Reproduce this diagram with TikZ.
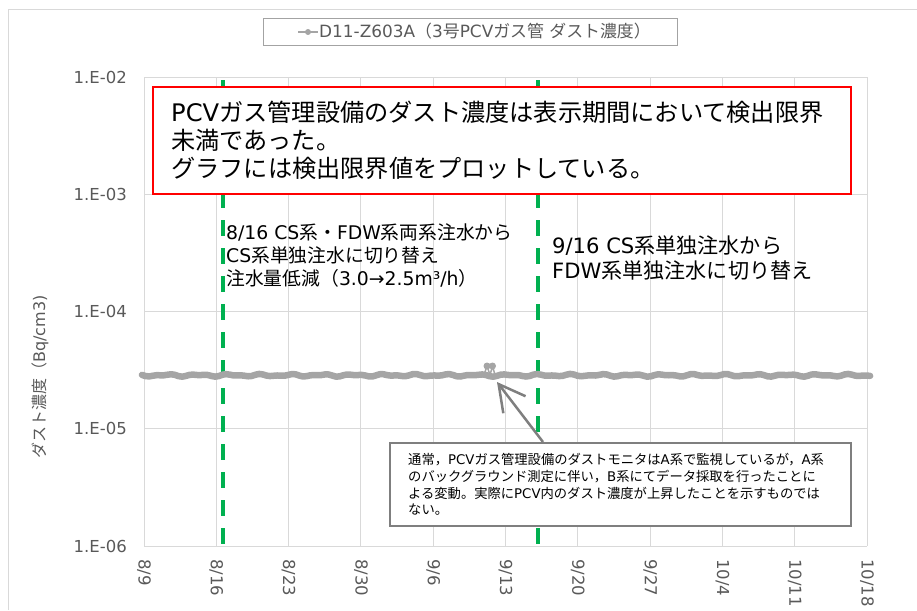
\documentclass[tikz,border=0pt]{standalone}
\usepackage{fontspec}
\setmainfont{Noto Sans CJK JP}
\newfontfamily\latfont{DejaVu Sans}
\newcommand\ltn[1]{{\latfont #1}}
\usepackage{tikz}
\usetikzlibrary{arrows.meta,positioning}
\definecolor{gridgray}{HTML}{D9D9D9}
\definecolor{datagray}{HTML}{A5A5A5}
\definecolor{txtgray}{HTML}{595959}
\definecolor{boxgray}{HTML}{7F7F7F}
\definecolor{xlgreen}{HTML}{00B050}

\begin{document}
\begin{tikzpicture}[x=1pt, y=-1pt,
    gridline/.style={draw=gridgray, line width=1pt},
    ticklbl/.style={text=txtgray, font=\fontsize{16.5}{18}\latfont, inner sep=0pt},
    greendash/.style={draw=xlgreen, line width=4pt, dash pattern=on 15.5pt off 12.5pt},
    data/.style={draw=datagray, line width=6.5pt, line cap=round, line join=round},
    note/.style={align=left, inner sep=0pt, anchor=west}]
    	\useasboundingbox (0,0) rectangle (917,610);
    	\draw[gridline] (8,610) -- (8,10) -- (917,10);
    	
    	% grid and axis labels
    	\foreach \k in {0,...,10}
    		\draw[gridline] (144+\k*72.3,77) -- (144+\k*72.3,546);
    	\foreach \e [count=\k from 0] in {02,03,04,05,06} {
    		\draw[gridline] (144,77+\k*117.25) -- (867,77+\k*117.25);
    		\node[ticklbl, anchor=east] (yl\k) at (127,77+\k*117.25) {1.E-\e};
    	}
    	\foreach \m/\dd [count=\k from 0] in {8/9,8/16,8/23,8/30,9/6,9/13,9/20,9/27,10/4,10/11,10/18}
    		\node[ticklbl, rotate=-90, anchor=west] (xl\k) at (144+\k*72.3,559) {\m/\dd};
    	\node[rotate=90, text=txtgray, font=\fontsize{16}{18}\selectfont] (ytitle) at (40,377) {ダスト濃度（\ltn{Bq/cm3)}};
    	
    	% switching dates
    	\draw[greendash] (222.5,80) -- (222.5,546);
    	\draw[greendash] (537.5,80) -- (537.5,546);
    	
    	% data
    	\draw[data] plot[smooth, domain=-0.2:70.3, samples=200] ({144+\x*72.3/7}, {375.3+0.8*sin(\x*120)+0.6*sin(\x*215+30)});
    	\draw[datagray, line width=1.5pt] (484,375) -- (487,366) -- (490,375) -- (492.5,366) -- (495,375);
    	\fill[datagray] (487,366) circle (3.5pt) (492.5,366) circle (3.5pt);
    	
    	% legend
    	\node[draw=gridgray!40!boxgray, line width=1.2pt, minimum width=414pt, minimum height=27pt, anchor=north west] (legend) at (263,18) {};
    	\draw[datagray, line width=2pt] (298,32) -- (318,32);
    	\fill[datagray] (308,32) circle (3pt);
    	\node[note, text=txtgray, font=\fontsize{16.9}{18}\selectfont] (legtxt) at (319,31.5) {\ltn{D11-Z603A}（\ltn{3}号\ltn{PCV}ガス管\ltn{ }ダスト濃度）};
    	
    	% notes
    	\node[draw=red, fill=white, line width=2pt, minimum width=698pt, minimum height=107pt, anchor=north west] (warn) at (152,86) {};
    	\node[note, font=\fontsize{24.2}{28}\selectfont, right=19pt of warn.west] (warntxt)
    		{\ltn{PCV}ガス管理設備のダスト濃度は表示期間において検出限界\\未満であった。\\グラフには検出限界値をプロットしている。};
    	\node[note, font=\fontsize{18.8}{23}\selectfont] (sw1) at (226,255)
    		{\ltn{8/16 CS}系・\ltn{FDW}系両系注水から\\\ltn{CS}系単独注水に切り替え\\注水量低減（\ltn{3.0→2.5m³/h}）};
    	\node[note, font=\fontsize{21.1}{25}\selectfont] (sw2) at (552,257.5)
    		{\ltn{9/16 CS}系単独注水から\\\ltn{FDW}系単独注水に切り替え};
    	
    	\node[draw=boxgray, fill=white, line width=2pt, minimum width=461pt, minimum height=83pt, anchor=north west] (memo) at (389,442) {};
    	\node[note, font=\fontsize{13.3}{16.7}\selectfont, right=19pt of memo.west] (memotxt)
    		{通常，\ltn{PCV}ガス管理設備のダストモニタは\ltn{A}系で監視しているが，\ltn{A}系\\のバックグラウンド測定に伴い，\ltn{B}系にてデータ採取を行ったことに\\よる変動。実際に\ltn{PCV}内のダスト濃度が上昇したことを示すものでは\\ない。};
    	\coordinate (foot) at (543,442);
    	\coordinate (tip) at (497,382);
    	\draw[boxgray, line width=2.5pt, -{Straight Barb[length=26pt,width=28pt]}] (foot) -- (tip);
    \end{tikzpicture}
\end{document}
